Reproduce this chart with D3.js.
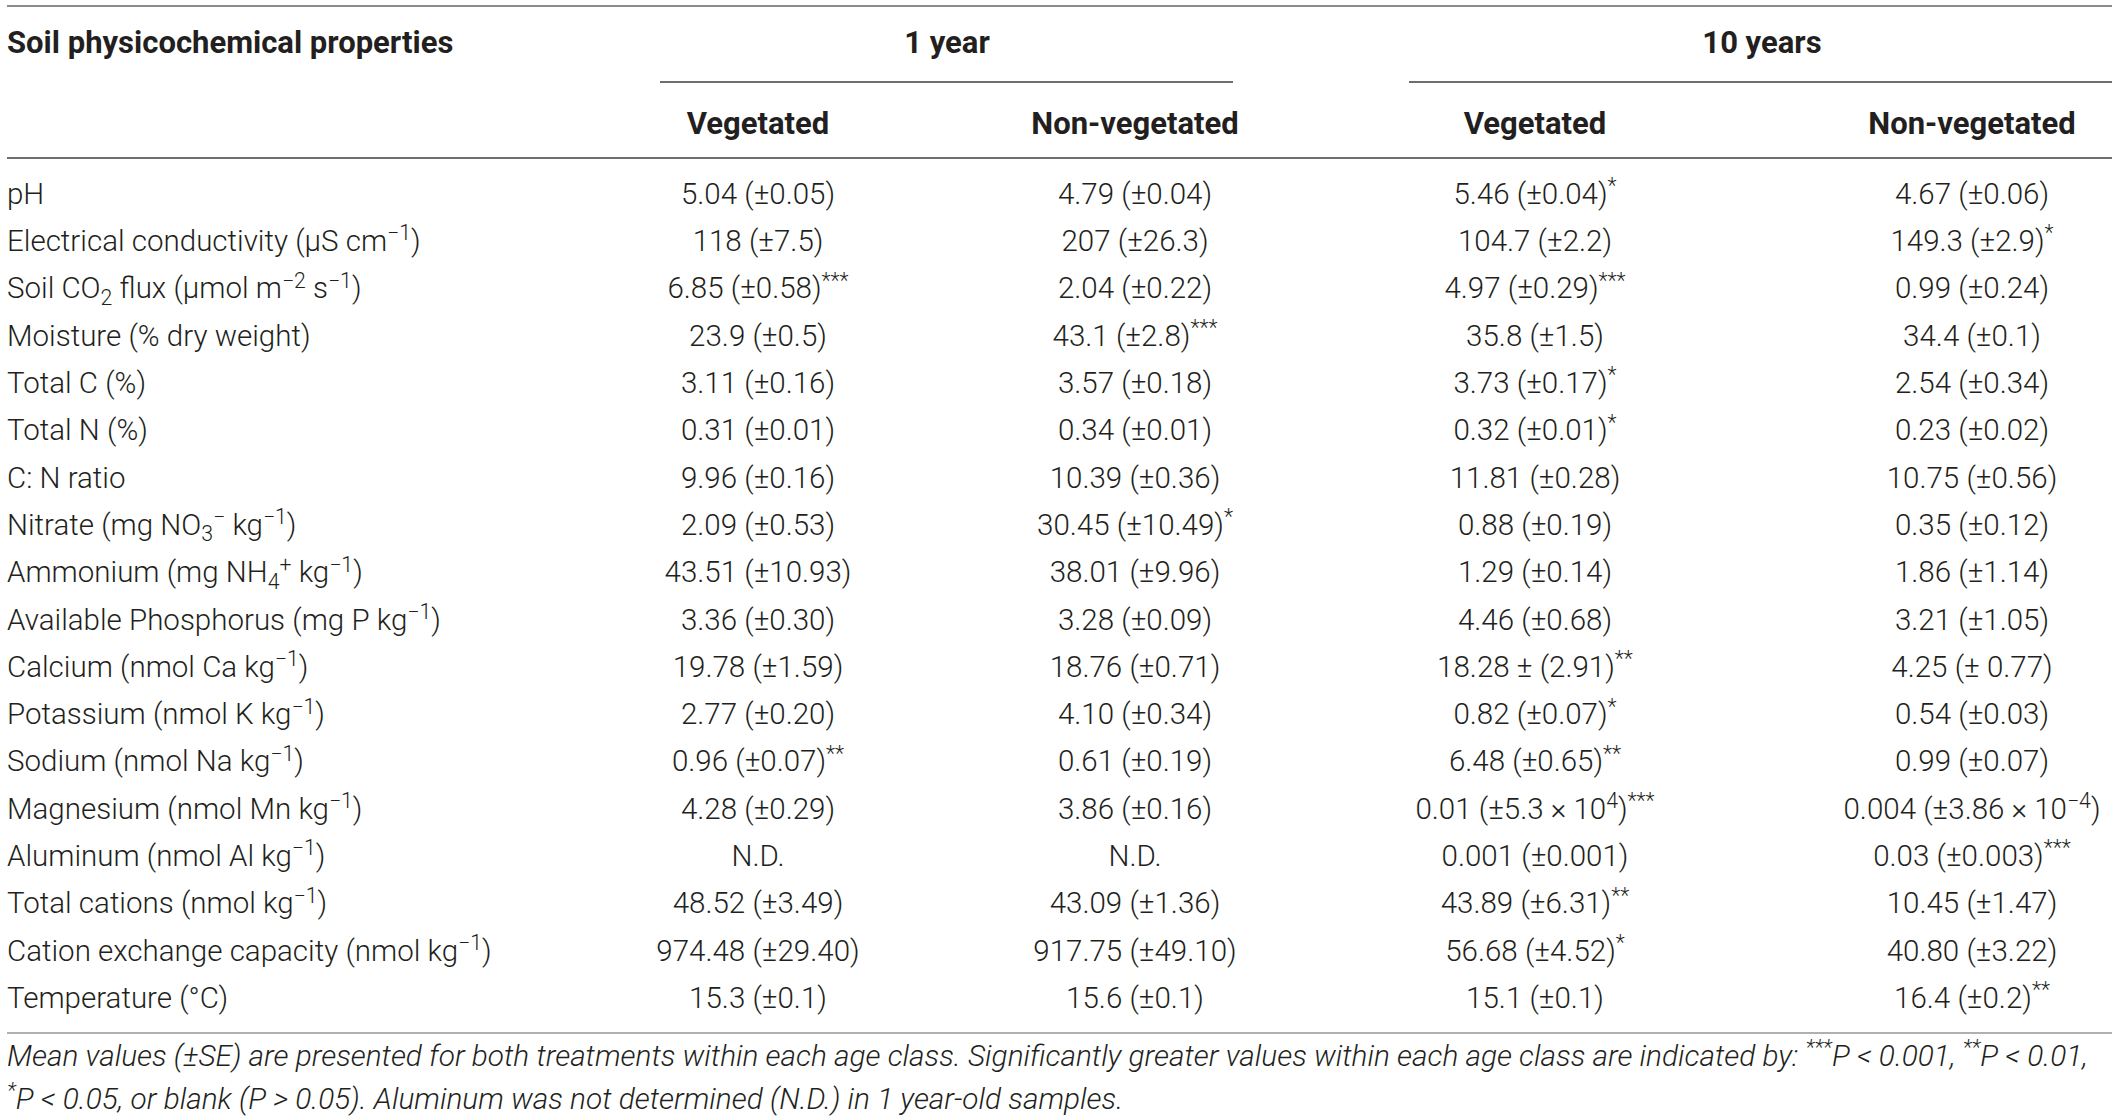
<!DOCTYPE html>
<html>
<head>
<meta charset="utf-8">
<script src="https://cdn.jsdelivr.net/npm/d3@7"></script>
<style>
  html, body { margin: 0; padding: 0; background: #fff; }
  svg { display: block; }
</style>
</head>
<body>
<div id="table"></div>
<script>
// row labels, with ^{...} for superscript and _{...} for subscript
const properties = [
  "pH",
  "Electrical conductivity (μS cm^{−1})",
  "Soil CO_{2} flux (μmol m^{−2} s^{−1})",
  "Moisture (% dry weight)",
  "Total C (%)",
  "Total N (%)",
  "C: N ratio",
  "Nitrate (mg NO_{3}^{−} kg^{−1})",
  "Ammonium (mg NH_{4}^{+} kg^{−1})",
  "Available Phosphorus (mg P kg^{−1})",
  "Calcium (nmol Ca kg^{−1})",
  "Potassium (nmol K kg^{−1})",
  "Sodium (nmol Na kg^{−1})",
  "Magnesium (nmol Mn kg^{−1})",
  "Aluminum (nmol Al kg^{−1})",
  "Total cations (nmol kg^{−1})",
  "Cation exchange capacity (nmol kg^{−1})",
  "Temperature (°C)"
];

const ageClasses = ["1 year", "10 years"];
const treatments = ["Vegetated", "Non-vegetated"];

const veg1 = ["5.04 (±0.05)", "118 (±7.5)", "6.85 (±0.58)", "23.9 (±0.5)", "3.11 (±0.16)",
  "0.31 (±0.01)", "9.96 (±0.16)", "2.09 (±0.53)", "43.51 (±10.93)", "3.36 (±0.30)",
  "19.78 (±1.59)", "2.77 (±0.20)", "0.96 (±0.07)", "4.28 (±0.29)", "N.D.",
  "48.52 (±3.49)", "974.48 (±29.40)", "15.3 (±0.1)"];
const veg1Sig = ["", "", "***", "", "", "", "", "", "", "", "", "", "**", "", "", "", "", ""];

const nonveg1 = ["4.79 (±0.04)", "207 (±26.3)", "2.04 (±0.22)", "43.1 (±2.8)", "3.57 (±0.18)",
  "0.34 (±0.01)", "10.39 (±0.36)", "30.45 (±10.49)", "38.01 (±9.96)", "3.28 (±0.09)",
  "18.76 (±0.71)", "4.10 (±0.34)", "0.61 (±0.19)", "3.86 (±0.16)", "N.D.",
  "43.09 (±1.36)", "917.75 (±49.10)", "15.6 (±0.1)"];
const nonveg1Sig = ["", "", "", "***", "", "", "", "*", "", "", "", "", "", "", "", "", "", ""];

const veg10 = ["5.46 (±0.04)", "104.7 (±2.2)", "4.97 (±0.29)", "35.8 (±1.5)", "3.73 (±0.17)",
  "0.32 (±0.01)", "11.81 (±0.28)", "0.88 (±0.19)", "1.29 (±0.14)", "4.46 (±0.68)",
  "18.28 ± (2.91)", "0.82 (±0.07)", "6.48 (±0.65)", "0.01 (±5.3 × 10^{4})", "0.001 (±0.001)",
  "43.89 (±6.31)", "56.68 (±4.52)", "15.1 (±0.1)"];
const veg10Sig = ["*", "", "***", "", "*", "*", "", "", "", "", "**", "*", "**", "***", "", "**", "*", ""];

const nonveg10 = ["4.67 (±0.06)", "149.3 (±2.9)", "0.99 (±0.24)", "34.4 (±0.1)", "2.54 (±0.34)",
  "0.23 (±0.02)", "10.75 (±0.56)", "0.35 (±0.12)", "1.86 (±1.14)", "3.21 (±1.05)",
  "4.25 (± 0.77)", "0.54 (±0.03)", "0.99 (±0.07)", "0.004 (±3.86 × 10^{−4})", "0.03 (±0.003)",
  "10.45 (±1.47)", "40.80 (±3.22)", "16.4 (±0.2)"];
const nonveg10Sig = ["", "*", "", "", "", "", "", "", "", "", "", "", "", "", "***", "", "", "**"];

const footnote = [
  "Mean values (±SE) are presented for both treatments within each age class. Significantly greater values within each age class are indicated by: ^{***}P < 0.001, ^{**}P < 0.01,",
  "^{*}P < 0.05, or blank (P > 0.05). Aluminum was not determined (N.D.) in 1 year-old samples."
];

const width = 2118;
const height = 1120;
const fontSize = 29.5;
const noteSize = 29.8;
const textColor = "#231f20";

const columns = [
  {key: "v1", age: 0, treat: 0, values: veg1, sig: veg1Sig},
  {key: "n1", age: 0, treat: 1, values: nonveg1, sig: nonveg1Sig},
  {key: "v10", age: 1, treat: 0, values: veg10, sig: veg10Sig},
  {key: "n10", age: 1, treat: 1, values: nonveg10, sig: nonveg10Sig}
];

const svg = d3.select("#table")
  .append("svg")
  .attr("width", width)
  .attr("height", height)
  .attr("viewBox", [0, 0, width, height])
  .style("font-family", "Roboto, 'Liberation Sans', sans-serif")
  .attr("fill", textColor);

// row positions
const y = d3.scaleBand()
  .domain(d3.range(properties.length))
  .range([169.5, 1021]);

// column centres
const x = d3.scaleOrdinal()
  .domain(columns.map(c => c.key))
  .range([758, 1135, 1535, 1972]);

const ageX = d3.scaleOrdinal().domain(ageClasses).range([947, 1762]);
const ageSpan = d3.scaleOrdinal().domain(ageClasses).range([[660, 1233], [1409, 2112]]);

// writes a string with ^{} / _{} markup into a text element as tspans
function rich(textSel, str, size) {
  const re = /([\^_])\{([^}]*)\}/g;
  let last = 0, m, shift = 0;
  const parts = [];
  while ((m = re.exec(str)) !== null) {
    if (m.index > last) parts.push({t: str.slice(last, m.index), k: ""});
    parts.push({t: m[2], k: m[1]});
    last = re.lastIndex;
  }
  if (last < str.length) parts.push({t: str.slice(last), k: ""});
  parts.forEach(p => {
    let target = 0;
    if (p.k === "^") target = -size * 0.36;
    if (p.k === "_") target = size * 0.22;
    const ts = textSel.append("tspan").text(p.t);
    if (target !== shift) ts.attr("dy", target - shift);
    if (p.k) ts.attr("font-size", size * 0.72);
    shift = target;
  });
}

// rules
const rules = [
  {x1: 7, x2: 2112, y: 6, c: "#8c8c8c"},
  {x1: 7, x2: 2112, y: 158, c: "#6e6e6e"},
  {x1: 7, x2: 2112, y: 1033, c: "#b0b0b0"}
];
svg.append("g")
  .selectAll("line")
  .data(rules)
  .join("line")
    .attr("x1", d => d.x1)
    .attr("x2", d => d.x2)
    .attr("y1", d => d.y)
    .attr("y2", d => d.y)
    .attr("stroke", d => d.c)
    .attr("stroke-width", 2);

svg.append("g")
  .selectAll("line")
  .data(ageClasses)
  .join("line")
    .attr("x1", d => ageSpan(d)[0])
    .attr("x2", d => ageSpan(d)[1])
    .attr("y1", 82)
    .attr("y2", 82)
    .attr("stroke", "#6e6e6e")
    .attr("stroke-width", 2);

// header
const header = svg.append("g")
  .attr("font-weight", 700)
  .attr("font-size", 31)
  .attr("dominant-baseline", "central");

header.append("text")
  .attr("x", 7)
  .attr("y", 42)
  .text("Soil physicochemical properties");

header.selectAll(".age")
  .data(ageClasses)
  .join("text")
    .attr("class", "age")
    .attr("x", d => ageX(d))
    .attr("y", 42)
    .attr("text-anchor", "middle")
    .text(d => d);

header.selectAll(".treat")
  .data(columns)
  .join("text")
    .attr("class", "treat")
    .attr("x", d => x(d.key))
    .attr("y", 123)
    .attr("text-anchor", "middle")
    .text(d => treatments[d.treat]);

// body
const body = svg.append("g")
  .attr("font-weight", 300)
  .attr("font-size", fontSize);

body.selectAll(".label")
  .data(properties)
  .join("text")
    .attr("class", "label")
    .attr("x", 7)
    .attr("y", (d, i) => y(i) + y.bandwidth() / 2 + fontSize * 0.36)
    .each(function(d) { rich(d3.select(this), d, fontSize); });

columns.forEach(col => {
  body.selectAll(".cell-" + col.key)
    .data(col.values)
    .join("text")
      .attr("class", "cell-" + col.key)
      .attr("x", x(col.key))
      .attr("y", (d, i) => y(i) + y.bandwidth() / 2 + fontSize * 0.36)
      .attr("text-anchor", "middle")
      .each(function(d, i) {
        const s = col.sig[i] ? d + "^{" + col.sig[i] + "}" : d;
        rich(d3.select(this), s, fontSize);
      });
});

// footnote
svg.append("g")
  .attr("font-weight", 300)
  .attr("font-style", "italic")
  .attr("font-size", noteSize)
  .selectAll("text")
  .data(footnote)
  .join("text")
    .attr("x", 7)
    .attr("y", (d, i) => 1066 + i * 43)
    .each(function(d) { rich(d3.select(this), d, noteSize); });
</script>
</body>
</html>
